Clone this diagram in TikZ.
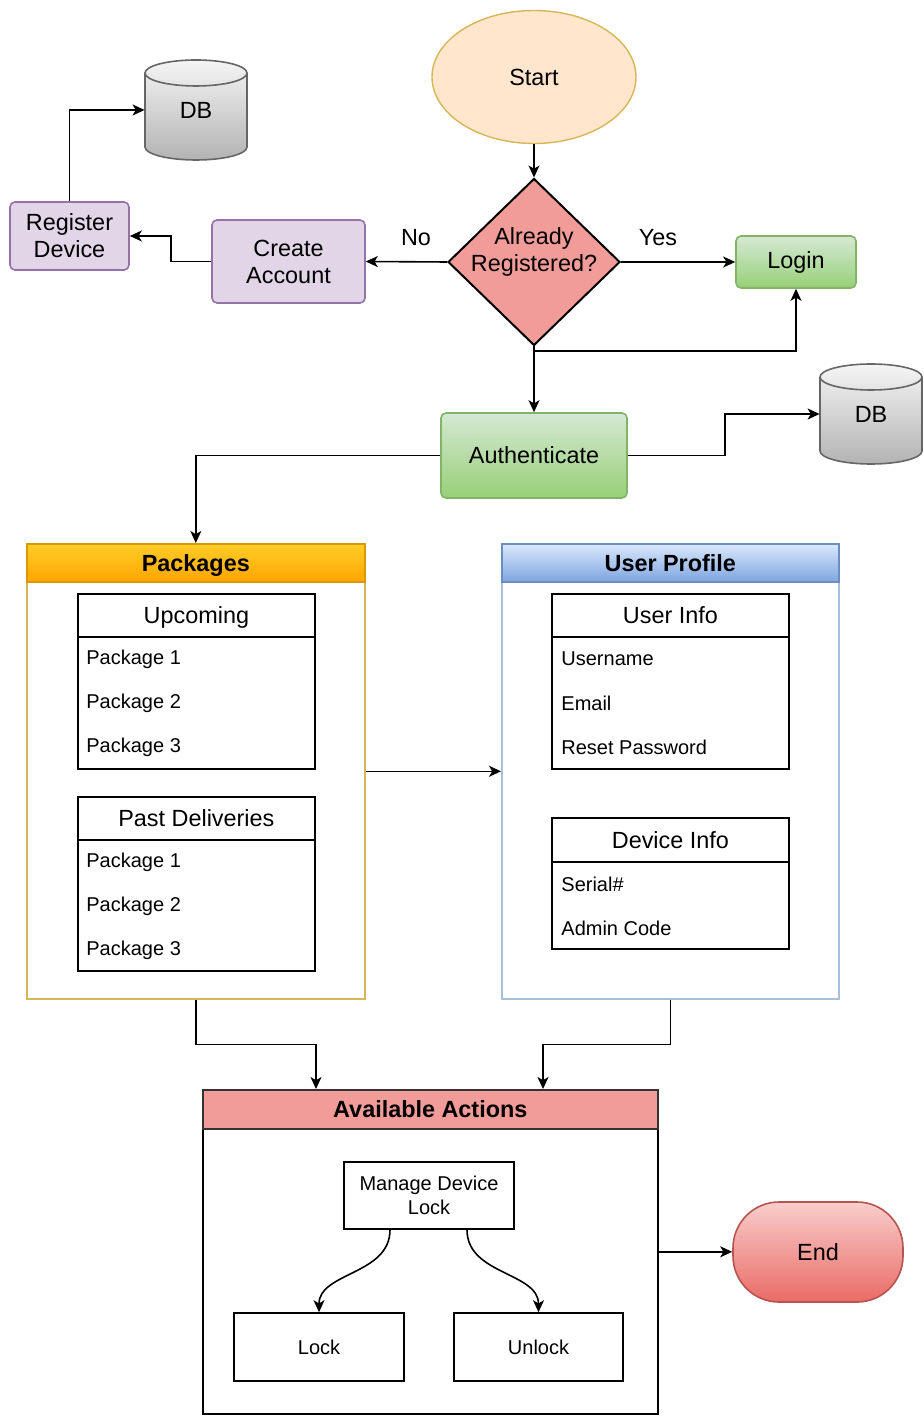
\documentclass[tikz,border=0pt]{standalone}
\usepackage{fontspec}
\setmainfont{Liberation Sans}
\usetikzlibrary{shapes.geometric,arrows.meta,calc}
\definecolor{startfill}{HTML}{FFE6CC}
\definecolor{startdraw}{HTML}{D6B656}
\definecolor{diafill}{HTML}{F19C99}
\definecolor{purplefill}{HTML}{E1D5E7}
\definecolor{purpledraw}{HTML}{9673A6}
\definecolor{greentop}{HTML}{D5E8D4}
\definecolor{greenbot}{HTML}{97D077}
\definecolor{greendraw}{HTML}{82B366}
\definecolor{dbtop}{HTML}{F5F5F5}
\definecolor{dbbot}{HTML}{B3B3B3}
\definecolor{dbdraw}{HTML}{666666}
\definecolor{orangetop}{HTML}{FFCD28}
\definecolor{orangebot}{HTML}{FFA500}
\definecolor{orangedraw}{HTML}{D79B00}
\definecolor{yellowdraw}{HTML}{D6B656}
\definecolor{bluetop}{HTML}{DAE8FC}
\definecolor{bluebot}{HTML}{7EA6E0}
\definecolor{bluedraw}{HTML}{6C8EBF}
\definecolor{bluebody}{HTML}{A9C0DC}
\definecolor{endtop}{HTML}{F8CECC}
\definecolor{endbot}{HTML}{EA6B66}
\definecolor{enddraw}{HTML}{B85450}
\tikzset{
  every node/.style={font=\fontsize{11.7}{13.5}\selectfont, inner sep=0pt, align=center},
  smalltxt/.style={font=\fontsize{10}{12}\selectfont},
  conn/.style={line width=0.8pt, -{Stealth[length=6pt,width=5.5pt,inset=1.6pt]}},
  purplebox/.style={rectangle, rounded corners=2.5pt, draw=purpledraw, fill=purplefill, line width=0.8pt},
  greenbox/.style={rectangle, rounded corners=2.5pt, draw=greendraw, top color=greentop, bottom color=greenbot, line width=0.8pt},
  lane/.style={rectangle, anchor=north west, fill=white, line width=0.8pt},
  laneheader/.style={rectangle, anchor=north west, line width=0.8pt, text height=8.6pt, text depth=0pt, font=\fontsize{11.7}{13.5}\selectfont\bfseries},
  listbox/.style={rectangle, anchor=north west, draw=black, fill=white, line width=0.9pt, minimum width=118.5pt},
  listhead/.style={rectangle, anchor=north west, draw=black, line width=0.9pt, minimum width=118.5pt, text height=8.4pt, text depth=0pt},
  listitem/.style={anchor=west, smalltxt},
  actbox/.style={rectangle, draw=black, fill=white, line width=0.8pt, smalltxt},
  dbshape/.style={draw=dbdraw, line width=0.8pt},
}
\newcommand{\dbcylinder}[2]{%
  \path[dbshape, top color=dbtop, bottom color=dbbot]
    (#1-51,#2+37) -- (#1-51,#2-37)
    arc[start angle=180, end angle=360, x radius=25.5pt, y radius=6.5pt]
    -- (#1+51,#2+37)
    arc[start angle=0, end angle=180, x radius=25.5pt, y radius=6.5pt] -- cycle;
  \draw[dbshape] (#1-51,#2+37) arc[start angle=180, end angle=360, x radius=25.5pt, y radius=6.5pt];
}
\begin{document}
\begin{tikzpicture}[x=0.5pt, y=0.5pt]
\useasboundingbox (0,0) rectangle (924,-1416);

% Start and decision
\node[ellipse, draw=startdraw, fill=startfill, line width=0.7pt, minimum width=102pt, minimum height=66.5pt] (start) at (534,-77) {Start};
\node[diamond, draw=black, fill=diafill, line width=1pt, minimum width=86pt, minimum height=83.5pt] (dia) at (534,-262) {};
\node (diatxt) at (534,-252) {Already\\Registered?};
\node (nolbl) at (416,-238) {No};
\node (yeslbl) at (658,-238) {Yes};

\node[greenbox, minimum width=60pt, minimum height=26pt] (login) at (796,-262) {Login};
\node[purplebox, minimum width=76.5pt, minimum height=41.5pt] (ca) at (288.5,-261.5) {Create\\Account};
\node[purplebox, minimum width=59.5pt, minimum height=34pt] (rd) at (69.5,-236) {Register\\Device};
\node[greenbox, minimum width=93pt, minimum height=42.5pt] (auth) at (534,-455.5) {Authenticate};

% Databases
\dbcylinder{196}{-110}
\node[minimum width=51pt, minimum height=50pt] (db1) at (196,-110) {DB};
\dbcylinder{871}{-414}
\node[minimum width=51pt, minimum height=49pt] (db2) at (871,-414) {DB};

% Packages lane
\node[lane, draw=yellowdraw, minimum width=169pt, minimum height=227.5pt] (pk) at (26,-543) {};
\node[laneheader, draw=orangedraw, top color=orangetop, bottom color=orangebot, minimum width=169pt, minimum height=19pt] (pkh) at (26,-543) {Packages};
\node[listbox, minimum height=87.5pt] (upc) at (77,-593) {};
\node[listhead, minimum height=21.5pt] (upch) at (77,-593) {Upcoming};
\node[listitem] (upc1) at (86,-659) {Package 1};
\node[listitem] (upc2) at (86,-703) {Package 2};
\node[listitem] (upc3) at (86,-747) {Package 3};
\node[listbox, minimum height=87pt] (pst) at (77,-796) {};
\node[listhead, minimum height=21.5pt] (psth) at (77,-796) {Past Deliveries};
\node[listitem] (pst1) at (86,-862) {Package 1};
\node[listitem] (pst2) at (86,-906) {Package 2};
\node[listitem] (pst3) at (86,-950) {Package 3};

% User Profile lane
\node[lane, draw=bluebody, minimum width=168.5pt, minimum height=227.5pt] (up) at (501,-543) {};
\node[laneheader, draw=bluedraw, top color=bluetop, bottom color=bluebot, minimum width=168.5pt, minimum height=19pt] (uph) at (501,-543) {User Profile};
\node[listbox, minimum height=87.5pt] (ui) at (551,-593) {};
\node[listhead, minimum height=21.5pt] (uih) at (551,-593) {User Info};
\node[listitem] (ui1) at (561,-659) {Username};
\node[listitem] (ui2) at (561,-703) {Email};
\node[listitem] (ui3) at (561,-747) {Reset Password};
\node[listbox, minimum height=65.5pt] (di) at (551,-817) {};
\node[listhead, minimum height=22pt] (dih) at (551,-817) {Device Info};
\node[listitem] (di1) at (561,-884) {Serial\#};
\node[listitem] (di2) at (561,-928) {Admin Code};

% Available Actions lane
\node[lane, draw=black, minimum width=227.5pt, minimum height=162pt] (aa) at (202,-1089) {};
\node[laneheader, draw=black!80, fill=diafill, minimum width=227.5pt, minimum height=19.5pt] (aah) at (202,-1089) {Available Actions};
\node[actbox, minimum width=85pt, minimum height=33.5pt] (mdl) at (429,-1195.5) {Manage Device\\Lock};
\node[actbox, minimum width=85pt, minimum height=34pt] (lock) at (319,-1347) {Lock};
\node[actbox, minimum width=84.5pt, minimum height=34pt] (unlock) at (538.5,-1347) {Unlock};

% End
\node[rectangle, rounded corners=23pt, draw=enddraw, top color=endtop, bottom color=endbot, line width=0.8pt, minimum width=85pt, minimum height=50pt] (endn) at (818,-1252) {End};

% Connectors
\coordinate (br) at (534,-351);
\coordinate (aain1) at (316,-1089);
\coordinate (aain2) at (543,-1089);
\draw[conn] (start.south) -- (dia.north);
\draw[conn] (dia.west) -- (ca.east);
\draw[conn] (dia.east) -- (login.west);
\draw[conn] (ca.west) -- ++(-40,0) |- (rd.east);
\draw[conn] (rd.north) |- (db1.west);
\draw[conn] (dia.south) -- (auth.north);
\draw[conn] (br) -| (login.south);
\draw[conn] (auth.east) -- ++(97,0) |- (db2.west);
\draw[conn] (auth.west) -| (pkh.north);
\draw[conn] (pk.east) -- (up.west);
\draw[conn] (pk.south) -- ++(0,-45) -| (aain1);
\draw[conn] (up.south) -- ++(0,-45) -| (aain2);
\draw[conn] ($(mdl.south)+(-39,0)$) .. controls +(0,-45) and +(0,40) .. (lock.north);
\draw[conn] ($(mdl.south)+(38,0)$) .. controls +(0,-45) and +(0,40) .. (unlock.north);
\draw[conn] (aa.east) -- (aa.east -| endn.west);
\end{tikzpicture}
\end{document}
